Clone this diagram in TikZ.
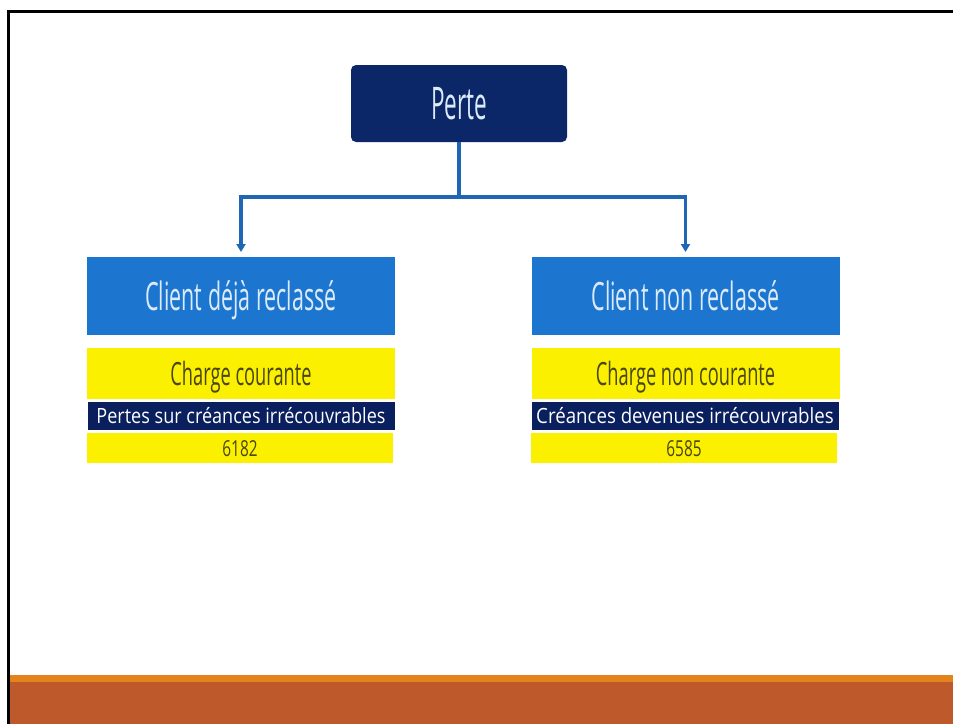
\documentclass[tikz,border=0pt]{standalone}
\usepackage{fontspec}
\setmainfont{Open Sans}
\usetikzlibrary{arrows.meta}

\definecolor{navy}{HTML}{0B2768}
\definecolor{navybar}{HTML}{0A1F5E}
\definecolor{midblue}{HTML}{1C76D0}
\definecolor{linkblue}{HTML}{1F67B4}
\definecolor{yell}{HTML}{FAF000}
\definecolor{olive}{HTML}{4A4614}
\definecolor{paleblue}{HTML}{DCEBFA}
\definecolor{bandorange}{HTML}{E3831A}
\definecolor{bandrust}{HTML}{BE592C}

\newcommand{\hsquash}[2]{\scalebox{#1}[1]{#2}}

\tikzset{
  box/.style={rectangle, inner sep=0pt, outer sep=0pt, align=center, text depth=0pt},
  rootbox/.style={box, fill=navy, rounded corners=5pt, minimum width=216pt, minimum height=77pt,
    text=paleblue, font=\fontsize{45}{45}\selectfont, text height=32pt},
  headbox/.style={box, fill=midblue, minimum width=308pt, minimum height=78pt,
    text=paleblue, font=\fontsize{39}{39}\selectfont, text height=28pt},
  kindbox/.style={box, fill=yell, minimum width=308pt, minimum height=51pt,
    text=olive, font=\fontsize{32}{32}\selectfont, text height=23pt},
  titlebar/.style={box, fill=navybar, minimum width=307pt, minimum height=28pt,
    text=white, font=\fontsize{21}{21}\selectfont, text height=15pt},
  codebox/.style={box, fill=yell, minimum width=306pt, minimum height=30pt,
    text=olive, font=\fontsize{22}{22}\selectfont, text height=16pt},
  conn/.style={draw=linkblue, line width=3.2pt},
  connarrow/.style={conn, -{Triangle[length=8pt,width=9pt]}},
}

\begin{document}
\begin{tikzpicture}[x=1pt, y=-1pt]
  \useasboundingbox (0,0) rectangle (953,724);
  \fill[white] (0,0) rectangle (953,724);

  % slide frame and footer band
  \fill[bandrust] (9,682) rectangle (953,724);
  \fill[bandorange] (9,675) rectangle (953,682);
  \draw[black, line width=3pt] (8.5,724) -- (8.5,11) -- (953,11);

  % root
  \node[rootbox] (perte) at (459,103.5) {\hsquash{0.5}{Perte}};

  % left column
  \node[headbox]  (lhead)  at (241,296)   {\hsquash{0.55}{Client déjà reclassé}};
  \node[kindbox]  (lkind)  at (241,373.5) {\hsquash{0.57}{Charge courante}};
  \node[titlebar] (ltitle) at (241,416)   {\hsquash{0.86}{Pertes sur créances irrécouvrables}};
  \node[codebox]  (lcode)  at (240,448)   {\hsquash{0.7}{6182}};

  % right column
  \node[headbox]  (rhead)  at (685.5,296) {\hsquash{0.55}{Client non reclassé}};
  \node[kindbox]  (rkind)  at (685.5,373.5) {\hsquash{0.57}{Charge non courante}};
  \node[titlebar] (rtitle) at (685,416)   {\hsquash{0.89}{Créances devenues irrécouvrables}};
  \node[codebox]  (rcode)  at (684,448)   {\hsquash{0.7}{6585}};

  % connectors
  \coordinate (split) at (459,197);
  \draw[conn] (perte.south) -- (split);
  \draw[connarrow] (split) -| ([yshift=5pt]lhead.north);
  \draw[connarrow] (split) -| ([yshift=5pt]rhead.north);
\end{tikzpicture}
\end{document}
